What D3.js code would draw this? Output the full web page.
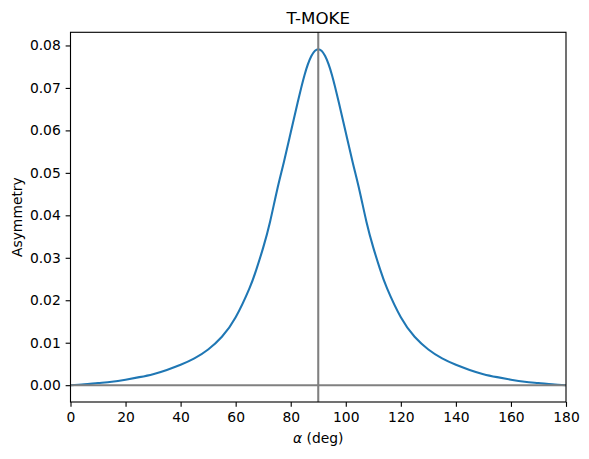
<!DOCTYPE html>
<html>
<head>
<meta charset="utf-8">
<script src="https://cdn.jsdelivr.net/npm/d3@7"></script>
<style>
    body { margin: 0; background: #fff; }
    svg { display: block; }
    text { font-family: "DejaVu Sans", sans-serif; }
</style>
</head>
<body>
<div id="plot"></div>
<script>
// angle of incidence (deg) and T-MOKE asymmetry
const alpha = [0, 5, 10, 15, 20, 25, 30, 35, 40, 45, 50, 55, 60, 65, 67.5, 70,
    72.5, 75, 77.5, 80, 82.5, 85, 87.5, 90, 92.5, 95, 97.5, 100, 102.5, 105,
    107.5, 110, 112.5, 115, 120, 125, 130, 135, 140, 145, 150, 155, 160, 165,
    170, 175, 180];
const asymmetry = [0.0000, 0.0002, 0.0005, 0.0008, 0.0013, 0.0019, 0.0026,
    0.0036, 0.0048, 0.0063, 0.0084, 0.0114, 0.0160, 0.0228, 0.0272, 0.0324,
    0.0385, 0.0458, 0.0525, 0.0595, 0.0665, 0.0730, 0.0775, 0.0791, 0.0775,
    0.0730, 0.0665, 0.0595, 0.0525, 0.0458, 0.0385, 0.0324, 0.0272, 0.0228,
    0.0160, 0.0114, 0.0084, 0.0063, 0.0048, 0.0036, 0.0026, 0.0019, 0.0013,
    0.0008, 0.0005, 0.0002, 0.0000];
const xTicks = [0, 20, 40, 60, 80, 100, 120, 140, 160, 180];
const yTicks = [0.00, 0.01, 0.02, 0.03, 0.04, 0.05, 0.06, 0.07, 0.08];

const width = 589, height = 459;
const margin = {top: 32.3, right: 23, bottom: 57, left: 70.5};
const innerW = width - margin.left - margin.right;
const innerH = height - margin.top - margin.bottom;
const pt = 100 / 72;

const points = alpha.map((a, i) => ({a: a, v: asymmetry[i]}));

const svg = d3.select('#plot')
    .append('svg')
    .attr('width', width)
    .attr('height', height);

const g = svg.append('g')
    .attr('transform', 'translate(' + margin.left + ',' + margin.top + ')');

const x = d3.scaleLinear()
    .domain([0, 180])
    .range([0, innerW]);

const y = d3.scaleLinear()
    .domain([-0.00396, 0.0831])
    .range([innerH, 0]);

// curve
const line = d3.line()
    .x((d) => x(d.a))
    .y((d) => y(d.v))
    .curve(d3.curveNatural);

g.append('path')
    .datum(points)
    .attr('fill', 'none')
    .attr('stroke', '#1f77b4')
    .attr('stroke-width', 1.5 * pt)
    .attr('d', line);

// reference lines
g.append('line')
    .attr('x1', 0).attr('x2', innerW)
    .attr('y1', y(0)).attr('y2', y(0))
    .attr('stroke', 'grey')
    .attr('stroke-width', 1.5 * pt);

g.append('line')
    .attr('x1', x(90)).attr('x2', x(90))
    .attr('y1', 0).attr('y2', innerH)
    .attr('stroke', 'grey')
    .attr('stroke-width', 1.5 * pt);

// axes
const xAxis = d3.axisBottom(x)
    .tickValues(xTicks)
    .tickFormat(d3.format('d'))
    .tickSize(3.5 * pt)
    .tickSizeOuter(0)
    .tickPadding(3.5 * pt);

const yAxis = d3.axisLeft(y)
    .tickValues(yTicks)
    .tickFormat(d3.format('.2f'))
    .tickSize(3.5 * pt)
    .tickSizeOuter(0)
    .tickPadding(3.5 * pt);

const gx = g.append('g')
    .attr('transform', 'translate(0,' + innerH + ')')
    .call(xAxis);

const gy = g.append('g')
    .call(yAxis);

[gx, gy].forEach((ax) => {
    ax.select('.domain').remove();
    ax.selectAll('line').attr('stroke', '#000').attr('stroke-width', 0.8 * pt);
    ax.selectAll('text')
        .attr('fill', '#000')
        .style('font-size', (10 * pt) + 'px')
        .style('font-family', '"DejaVu Sans", sans-serif');
});

// frame
g.append('rect')
    .attr('width', innerW)
    .attr('height', innerH)
    .attr('fill', 'none')
    .attr('stroke', '#000')
    .attr('stroke-width', 0.8 * pt);

// labels
svg.append('text')
    .attr('x', margin.left + innerW / 2)
    .attr('y', 24)
    .attr('text-anchor', 'middle')
    .style('font-size', (12 * pt) + 'px')
    .text('T-MOKE');

const xl = svg.append('text')
    .attr('x', margin.left + innerW / 2)
    .attr('y', 443)
    .attr('text-anchor', 'middle')
    .style('font-size', (10 * pt) + 'px');
xl.append('tspan').style('font-style', 'italic').text('α');
xl.append('tspan').text(' (deg)');

svg.append('text')
    .attr('transform', 'translate(21.5,' + (margin.top + innerH / 2) + ') rotate(-90)')
    .attr('text-anchor', 'middle')
    .style('font-size', (10 * pt) + 'px')
    .text('Asymmetry');
</script>
</body>
</html>
